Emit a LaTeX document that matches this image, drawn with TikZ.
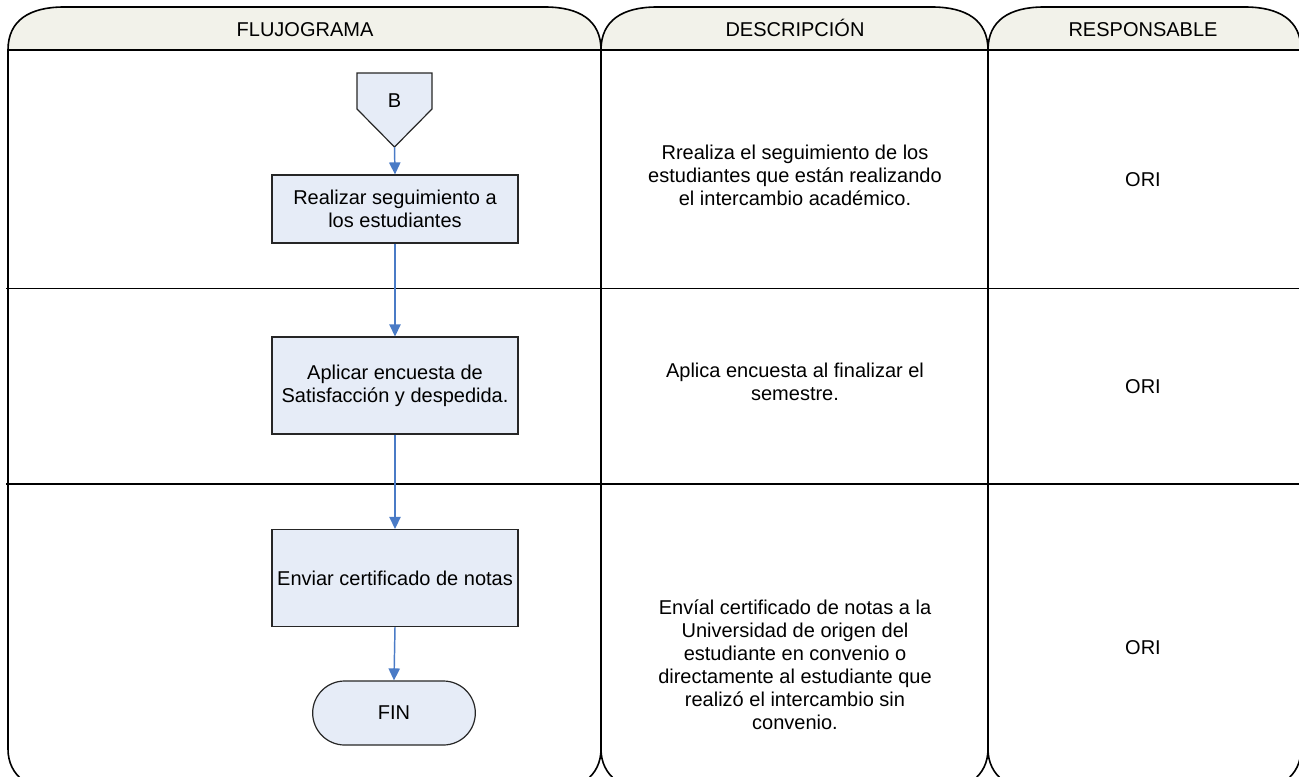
\documentclass[tikz,border=0pt]{standalone}
\usepackage{fontspec}
\setmainfont{Liberation Sans}
\usetikzlibrary{arrows.meta,shapes.misc}

\definecolor{headfill}{HTML}{F2F2EA}
\definecolor{boxfill}{HTML}{E6ECF7}
\definecolor{flowblue}{HTML}{4A7BC6}

\tikzset{
	txt/.style={align=center,font=\fontsize{15}{17.25}\selectfont},
	headtxt/.style={txt,anchor=base},
	procbox/.style={txt,draw=black!85,fill=boxfill,line width=0.9pt,inner sep=0pt,minimum width=184.5pt},
	flowarrow/.style={draw=flowblue,line width=1.1pt,-{Triangle[length=9pt,width=8.5pt]}},
	laneline/.style={line width=1.2pt,draw=black}
}

% lane with rounded head (x0, x1)
\newcommand{\lanebox}[2]{%
	\fill[headfill] (#1,50) .. controls (#1,20) and (#1+22,7) .. (#1+56,7) -- (#2-56,7) .. controls (#2-22,7) and (#2,20) .. (#2,50) -- cycle;
	\draw[laneline] (#1,749) -- (#1,50) .. controls (#1,20) and (#1+22,7) .. (#1+56,7) -- (#2-56,7) .. controls (#2-22,7) and (#2,20) .. (#2,50) -- (#2,749) .. controls (#2,776) and (#2-22,792) .. (#2-56,792) -- (#1+56,792) .. controls (#1+22,792) and (#1,776) .. (#1,749);
}

\begin{document}
\begin{tikzpicture}[x=0.75pt,y=-0.75pt]
		\useasboundingbox (0,0) rectangle (1299,776);
		\clip (0,0) rectangle (1299,776);
		
		% Lanes
		\lanebox{8}{601}
		\lanebox{601}{988}
		\lanebox{988}{1301}
		\draw[line width=1.5pt] (8,50) -- (1301,50);
		
		% Rows
		\draw[line width=1.1pt] (6,288.5) -- (1301,288.5);
		\draw[line width=1.1pt] (6,484) -- (1301,484);
		
		% Headers
		\node[headtxt] (hflujo) at (305,36.5) {FLUJOGRAMA};
		\node[headtxt] (hdesc) at (795,36.5) {DESCRIPCIÓN};
		\node[headtxt] (hresp) at (1143,36.5) {RESPONSABLE};
		
		% Connector B
		\filldraw[fill=boxfill,draw=black!85,line width=0.9pt] (357,73) -- (432,73) -- (432,109) -- (394.5,147) -- (357,109) -- cycle;
		\node[txt] (conB) at (394.5,101) {B};
		\coordinate (conBtip) at (394.5,147);
		
		% Process boxes
		\node[procbox,minimum height=51pt] (seguir) at (395,209) {Realizar seguimiento a\\los estudiantes};
		\node[procbox,minimum height=72.75pt] (encuesta) at (395,385.5) {Aplicar encuesta de\\Satisfacción y despedida.};
		\node[procbox,minimum height=72.75pt] (certif) at (395,578) {Enviar certificado de notas};
		
		% End
		\node[txt,rounded rectangle,draw=black!85,fill=boxfill,line width=0.9pt,minimum width=122pt,minimum height=48pt,inner sep=0pt] (fin) at (394,713) {FIN};
		
		% Flow
		\draw[flowarrow] (conBtip) -- (seguir.north);
		\draw[flowarrow] (seguir.south) -- (encuesta.north);
		\draw[flowarrow] (encuesta.south) -- (certif.north);
		\draw[flowarrow] (certif.south) -- (fin.north);
		
		% Descriptions
		\node[txt] (desc1) at (795,175) {Rrealiza el seguimiento de los\\estudiantes que están realizando\\el intercambio académico.};
		\node[txt] (desc2) at (795,381.5) {Aplica encuesta al finalizar el\\semestre.};
		\node[txt] (desc3) at (795,665) {Envíal certificado de notas a la\\Universidad de origen del\\estudiante en convenio o\\directamente al estudiante que\\realizó el intercambio sin\\convenio.};
		
		% Responsable
		\node[txt] (resp1) at (1143,180) {ORI};
		\node[txt] (resp2) at (1143,387) {ORI};
		\node[txt] (resp3) at (1143,648) {ORI};
	\end{tikzpicture}
\end{document}
